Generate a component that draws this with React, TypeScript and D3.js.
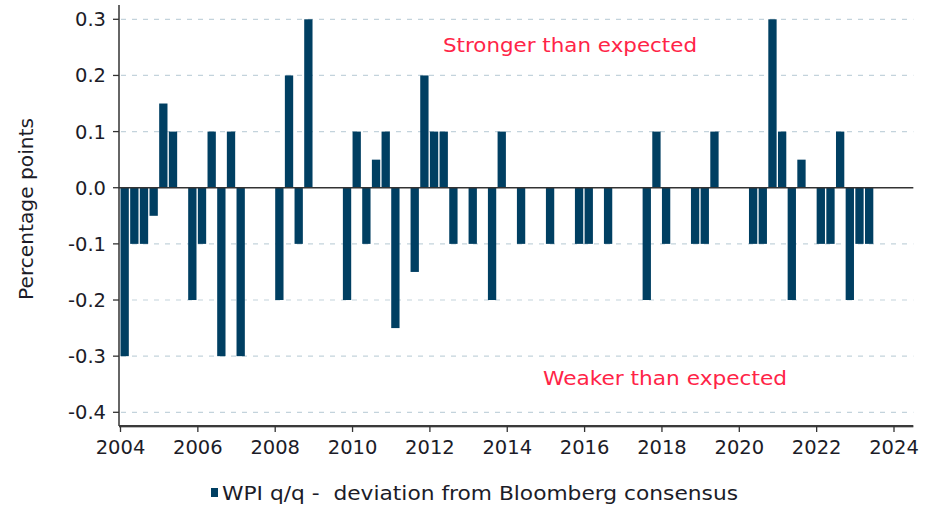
import React from "react";
import * as d3 from "d3";

const START_YEAR = 2004;
const values: number[] = [
  -0.3, -0.1, -0.1, -0.05, 0.15, 0.1, 0, -0.2,
  -0.1, 0.1, -0.3, 0.1, -0.3, 0, 0, 0,
  -0.2, 0.2, -0.1, 0.3, 0, 0, 0, -0.2,
  0.1, -0.1, 0.05, 0.1, -0.25, 0, -0.15, 0.2,
  0.1, 0.1, -0.1, 0, -0.1, 0, -0.2, 0.1,
  0, -0.1, 0, 0, -0.1, 0, 0, -0.1,
  -0.1, 0, -0.1, 0, 0, 0, -0.2, 0.1,
  -0.1, 0, 0, -0.1, -0.1, 0.1, 0, 0,
  0, -0.1, -0.1, 0.3, 0.1, -0.2, 0.05, 0,
  -0.1, -0.1, 0.1, -0.2, -0.1, -0.1,
];
const yTicks = [0.3, 0.2, 0.1, 0.0, -0.1, -0.2, -0.3, -0.4];
const xTicks = [2004, 2006, 2008, 2010, 2012, 2014, 2016, 2018, 2020, 2022, 2024];
const seriesName = "WPI q/q -  deviation from Bloomberg consensus";
const yTitle = "Percentage points";
const noteTop = "Stronger than expected";
const noteBottom = "Weaker than expected";

const W = 931;
const H = 508;
const BAR = "#003f62";
const RED = "#ff2447";
const TXT = "#1c1c28";
const FONT = "'DejaVu Sans', Verdana, sans-serif";

const fmt = (t: number) => d3.format(".1f")(t).replace("\u2212", "-");

export default function App() {
  const x = d3.scaleLinear().domain([2004, 2024]).range([120.5, 894]);
  const y = d3.scaleLinear().domain([-0.4, 0.3]).range([412.3, 19.3]);
  const xLeft = 119;
  const xRight = x(2024.5);
  const yTop = 5;
  const yBottom = 426;
  const step = x(2004.25) - x(2004);
  const bw = step * 0.86;

  return (
    <svg
      width={W}
      height={H}
      style={{ position: "absolute", left: 0, top: 0, background: "#fff" }}
    >
      {/* grid */}
      {yTicks.filter((t) => Math.abs(t) > 1e-9).map((t) => (
        <line
          key={"g" + t}
          x1={xLeft + 2}
          x2={xRight}
          y1={y(t)}
          y2={y(t)}
          stroke="#c3d3dc"
          strokeWidth={1.2}
          strokeDasharray="5,6"
        />
      ))}
      {/* bars */}
      {values.map((v, i) => {
        if (v === 0) return null;
        const x0 = x(START_YEAR + i / 4);
        const y0 = y(Math.max(0, v));
        const y1 = y(Math.min(0, v));
        return (
          <rect
            key={"b" + i}
            x={x0}
            y={y0}
            width={bw}
            height={y1 - y0}
            fill={BAR}
          />
        );
      })}
      {/* zero line */}
      <line x1={xLeft} x2={xRight} y1={y(0)} y2={y(0)} stroke="#333" strokeWidth={1.5} />
      {/* y axis */}
      <line x1={xLeft} x2={xLeft} y1={yTop} y2={yBottom} stroke="#333" strokeWidth={1.5} />
      {yTicks.map((t) => (
        <g key={"yt" + t}>
          <line x1={xLeft - 6} x2={xLeft} y1={y(t)} y2={y(t)} stroke="#333" strokeWidth={1.3} />
          <text
            x={106}
            y={y(t)}
            dy="0.36em"
            textAnchor="end"
            fontFamily={FONT}
            fontSize={19.5}
            fill={TXT}
          >
            {fmt(t)}
          </text>
        </g>
      ))}
      {/* x axis */}
      <line x1={xLeft} x2={xRight} y1={yBottom + 1} y2={yBottom + 1} stroke="#bbb" strokeWidth={2} />
      <line x1={xLeft} x2={xRight} y1={yBottom} y2={yBottom} stroke="#3a3a3a" strokeWidth={2} />
      {xTicks.map((t) => (
        <g key={"xt" + t}>
          <line x1={x(t)} x2={x(t)} y1={yBottom} y2={yBottom + 6} stroke="#333" strokeWidth={1.3} />
          <text
            x={x(t)}
            y={447}
            dy="0.36em"
            textAnchor="middle"
            fontFamily={FONT}
            fontSize={19.5}
            fill={TXT}
          >
            {t}
          </text>
        </g>
      ))}
      {/* y title */}
      <text
        transform={`translate(26,${209}) rotate(-90)`}
        textAnchor="middle"
        dy="0.36em"
        fontFamily={FONT}
        fontSize={19}
        textLength={182}
        lengthAdjust="spacingAndGlyphs"
        fill={TXT}
      >
        {yTitle}
      </text>
      {/* annotations */}
      <text x={443} y={45} dy="0.36em" fontFamily={FONT} fontSize={20} textLength={254} lengthAdjust="spacingAndGlyphs" fill={RED}>
        {noteTop}
      </text>
      <text x={543} y={378} dy="0.36em" fontFamily={FONT} fontSize={20} textLength={244} lengthAdjust="spacingAndGlyphs" fill={RED}>
        {noteBottom}
      </text>
      {/* legend */}
      <rect x={211} y={488} width={7} height={9} fill={BAR} />
      <text x={222} y={493} dy="0.36em" fontFamily={FONT} fontSize={20} textLength={516} lengthAdjust="spacingAndGlyphs" fill={TXT} style={{ whiteSpace: "pre" }}>
        {seriesName}
      </text>
    </svg>
  );
}
